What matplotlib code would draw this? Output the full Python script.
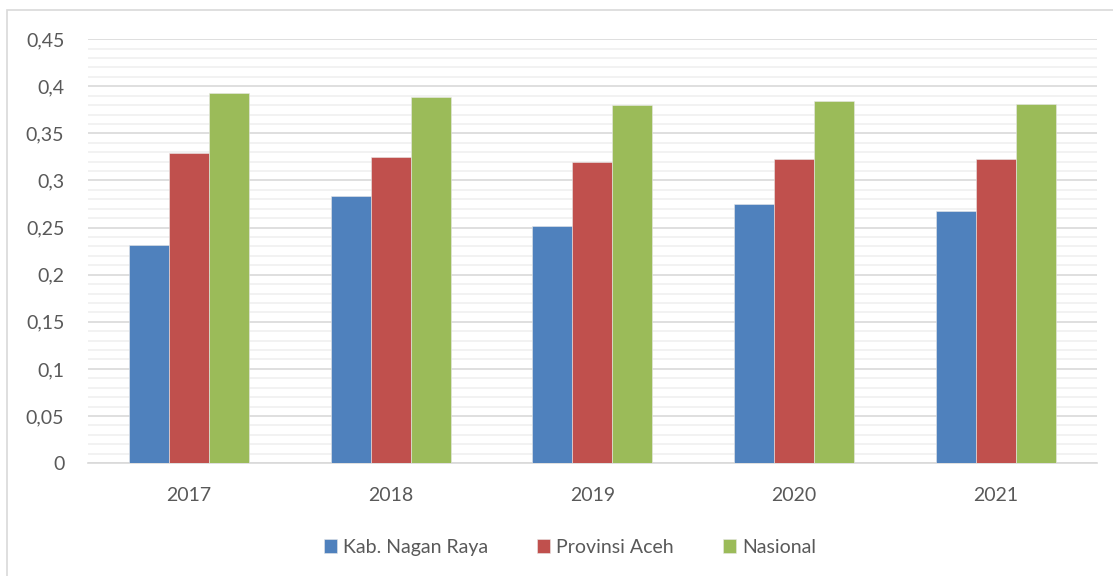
import matplotlib.pyplot as plt
import numpy as np
from matplotlib.patches import Rectangle
from matplotlib.ticker import MultipleLocator, FuncFormatter

# Data
years = ["2017", "2018", "2019", "2020", "2021"]
nagan_raya = [0.231, 0.283, 0.252, 0.275, 0.268]
prov_aceh = [0.329, 0.325, 0.320, 0.323, 0.323]
nasional = [0.393, 0.389, 0.380, 0.384, 0.381]
series_names = ["Kab. Nagan Raya", "Provinsi Aceh", "Nasional"]
colors = ["#4f81bd", "#c0504d", "#9bbb59"]

plt.rcParams['font.family'] = ['Lato', 'DejaVu Sans']
text_color = "#595959"

fig = plt.figure(figsize=(11.13, 5.76), dpi=100)
ax = fig.add_axes([0.079, 0.196, 0.9065, 0.736])

# outer chart border
fig.patches.append(Rectangle((7 / 1113, -0.01), 1.1, 1 - 10 / 576 + 0.01,
                             transform=fig.transFigure, fill=False,
                             edgecolor="#d9d9d9", linewidth=1.2))

x = np.arange(len(years))
width = 0.198
for i, (vals, name, col) in enumerate(zip([nagan_raya, prov_aceh, nasional], series_names, colors)):
    ax.bar(x + (i - 1) * width, vals, width, color=col, label=name,
           edgecolor="#e8e8e8", linewidth=0.4, zorder=3)

ax.set_xlim(-0.5, len(years) - 0.5)
ax.set_ylim(0, 0.45)
ax.yaxis.set_major_locator(MultipleLocator(0.05))
ax.yaxis.set_minor_locator(MultipleLocator(0.01))
ax.yaxis.set_major_formatter(FuncFormatter(lambda v, p: ("%g" % round(v, 2)).replace(".", ",")))
ax.grid(axis="y", which="major", color="#d9d9d9", linewidth=1.2, zorder=0)
ax.grid(axis="y", which="minor", color="#f0f0f0", linewidth=1.2, zorder=0)
ax.set_axisbelow(True)

ax.set_xticks(x)
ax.set_xticklabels(years)
ax.tick_params(axis="both", which="both", length=0, labelsize=14, colors=text_color)
ax.tick_params(axis="x", pad=17)
ax.tick_params(axis="y", pad=17)
for s in ["top", "right", "left"]:
    ax.spines[s].set_visible(False)
ax.spines["bottom"].set_color("#d9d9d9")
ax.spines["bottom"].set_linewidth(1.2)

leg = fig.legend(loc="center", bbox_to_anchor=(0.512, 0.05), ncol=3, frameon=False,
                 fontsize=14, handlelength=0.7, handleheight=0.7, handletextpad=0.3,
                 columnspacing=2.5)
for t in leg.get_texts():
    t.set_color(text_color)

fig.savefig("out.png", dpi=100)
